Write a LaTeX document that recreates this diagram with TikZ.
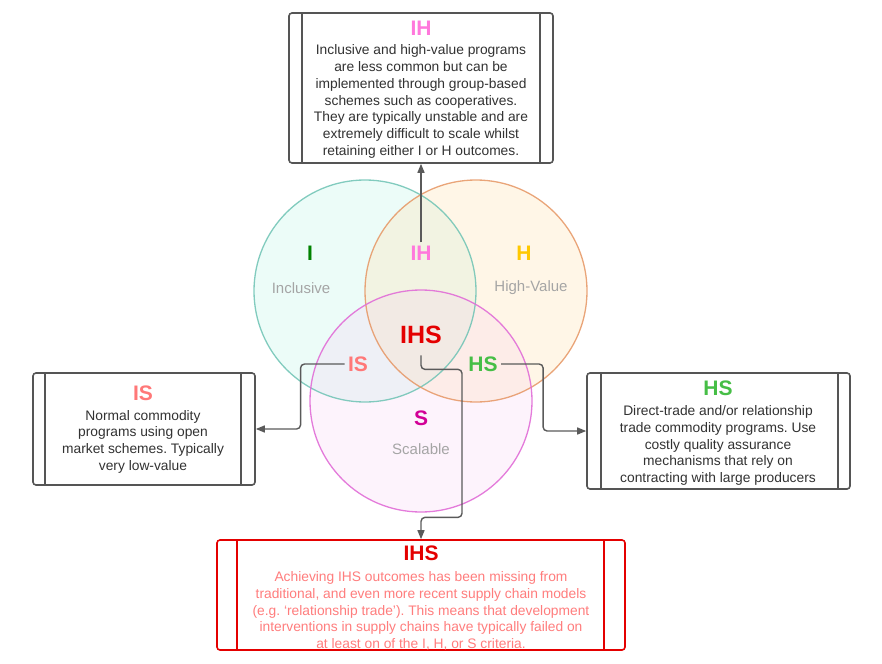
\documentclass[tikz,border=0pt]{standalone}
\usepackage{fontspec}
\setmainfont{Liberation Sans}
\usetikzlibrary{arrows.meta}
\definecolor{boxgray}{RGB}{85,85,85}
\definecolor{textdark}{RGB}{50,50,50}
\definecolor{conngray}{RGB}{90,90,90}
\definecolor{lightgray}{RGB}{165,165,165}
\definecolor{tealline}{RGB}{110,195,180}
\definecolor{tealfill}{RGB}{200,245,235}
\definecolor{orangeline}{RGB}{230,150,100}
\definecolor{orangefill}{RGB}{255,230,185}
\definecolor{pinkline}{RGB}{225,110,215}
\definecolor{pinkfill}{RGB}{245,200,240}
\definecolor{ihsred}{RGB}{228,0,0}
\definecolor{ihsbody}{RGB}{255,125,125}
\definecolor{ispink}{RGB}{255,120,120}
\definecolor{hsgreen}{RGB}{70,190,70}
\definecolor{ihpink}{RGB}{255,120,220}
\definecolor{hgold}{RGB}{255,200,0}
\definecolor{igreen}{RGB}{0,130,0}
\definecolor{smag}{RGB}{210,0,150}
\tikzset{
  box/.style={draw=boxgray, line width=1.6bp, rounded corners=3bp, fill=white, inner sep=0pt},
  boxline/.style={draw=boxgray, line width=1.6bp},
  title/.style={font=\bfseries\fontsize{21bp}{24bp}\selectfont, inner sep=0pt},
  body/.style={align=center, font=\frenchspacing\fontsize{13.8bp}{16.7bp}\selectfont, text=textdark, inner sep=0pt},
  vlabel/.style={font=\bfseries\fontsize{21bp}{24bp}\selectfont},
  sublabel/.style={font=\fontsize{15bp}{18bp}\selectfont, text=lightgray},
  conn/.style={draw=conngray, line width=1.4bp, rounded corners=4bp, -{Triangle[length=9bp,width=7bp]}}
}
\begin{document}
\frenchspacing
\begin{tikzpicture}[x=1bp,y=-1bp]
\useasboundingbox (0,0) rectangle (882,664);
% Venn circles
\fill[tealfill, fill opacity=0.35] (365,291) circle[radius=111];
\fill[orangefill, fill opacity=0.35] (476,291) circle[radius=111];
\fill[pinkfill, fill opacity=0.22] (421,401) circle[radius=111];
\draw[tealline, line width=1.3bp, draw opacity=0.85] (365,291) circle[radius=111];
\draw[orangeline, line width=1.3bp, draw opacity=0.85] (476,291) circle[radius=111];
\draw[pinkline, line width=1.3bp, draw opacity=0.9] (421,401) circle[radius=111];
% Venn labels
\node[vlabel, text=igreen] (il) at (310,253) {I};
\node[sublabel] (incl) at (301,288) {Inclusive};
\node[vlabel, text=ihpink] (ihl) at (421,253) {IH};
\node[vlabel, text=hgold] (hl) at (524,253) {H};
\node[sublabel] (hv) at (531,288) {High-Value};
\node[font=\bfseries\fontsize{25bp}{28bp}\selectfont, text=ihsred] (ihsl) at (421,335) {IHS};
\node[vlabel, text=ispink] (isl) at (358,364) {IS};
\node[vlabel, text=hsgreen] (hsl) at (483,364) {HS};
\node[vlabel, text=smag] (sl) at (421,418) {S};
\node[sublabel] (scal) at (421,449) {Scalable};
% Boxes
\node[box, minimum width=264bp, minimum height=150bp] (ihbox) at (421,88) {};
\draw[boxline] ([xshift=14bp]ihbox.north west) -- ([xshift=14bp]ihbox.south west);
\draw[boxline] ([xshift=-14bp]ihbox.north east) -- ([xshift=-14bp]ihbox.south east);
\node[title, text=ihpink] (iht) at (421,28) {IH};
\node[body] (ihb) at (421,101.5) {Inclusive and high-value programs\\are less common but can be\\implemented through group-based\\schemes such as cooperatives.\\They are typically unstable and are\\extremely difficult to scale whilst\\retaining either I or H outcomes.};

\node[box, minimum width=222bp, minimum height=112bp] (isbox) at (144,429) {};
\draw[boxline] ([xshift=13bp]isbox.north west) -- ([xshift=13bp]isbox.south west);
\draw[boxline] ([xshift=-15bp]isbox.north east) -- ([xshift=-15bp]isbox.south east);
\node[title, text=ispink] (ist) at (143,393) {IS};
\node[body] (isb) at (143,441.5) {Normal commodity\\programs using open\\market schemes. Typically\\very low-value};

\node[box, minimum width=263bp, minimum height=116bp] (hsbox) at (718.5,431) {};
\draw[boxline] ([xshift=15bp]hsbox.north west) -- ([xshift=15bp]hsbox.south west);
\draw[boxline] ([xshift=-13bp]hsbox.north east) -- ([xshift=-13bp]hsbox.south east);
\node[title, text=hsgreen] (hst) at (718,388) {HS};
\node[body] (hsb) at (718,445.5) {Direct-trade and/or relationship\\trade commodity programs. Use\\costly quality assurance\\mechanisms that rely on\\contracting with large producers};

\node[box, draw=ihsred, minimum width=408bp, minimum height=110bp] (ihsbox) at (421,595) {};
\draw[boxline, draw=ihsred] ([xshift=21bp]ihsbox.north west) -- ([xshift=21bp]ihsbox.south west);
\draw[boxline, draw=ihsred] ([xshift=-22bp]ihsbox.north east) -- ([xshift=-22bp]ihsbox.south east);
\node[title, text=ihsred] (ihst) at (421,553) {IHS};
\node[body, text=ihsbody] (ihsb) at (421,611) {Achieving IHS outcomes has been missing from\\traditional, and even more recent supply chain models\\(e.g. `relationship trade'). This means that development\\interventions in supply chains have typically failed on\\at least on of the I, H, or S criteria.};
% Connectors
\draw[conn] (ihl.north) -- (ihl.north |- ihbox.south);
\draw[conn] (isl.west) -- ++(-44,0) |- (isbox.east);
\draw[conn] (hsl.east) -- ++(42,0) |- (hsbox.west);
\draw[conn] ([yshift=-8bp]ihsl.south) -- ++(0,14) -| ++(41,148) -| (ihsbox.north);
\end{tikzpicture}
\end{document}
